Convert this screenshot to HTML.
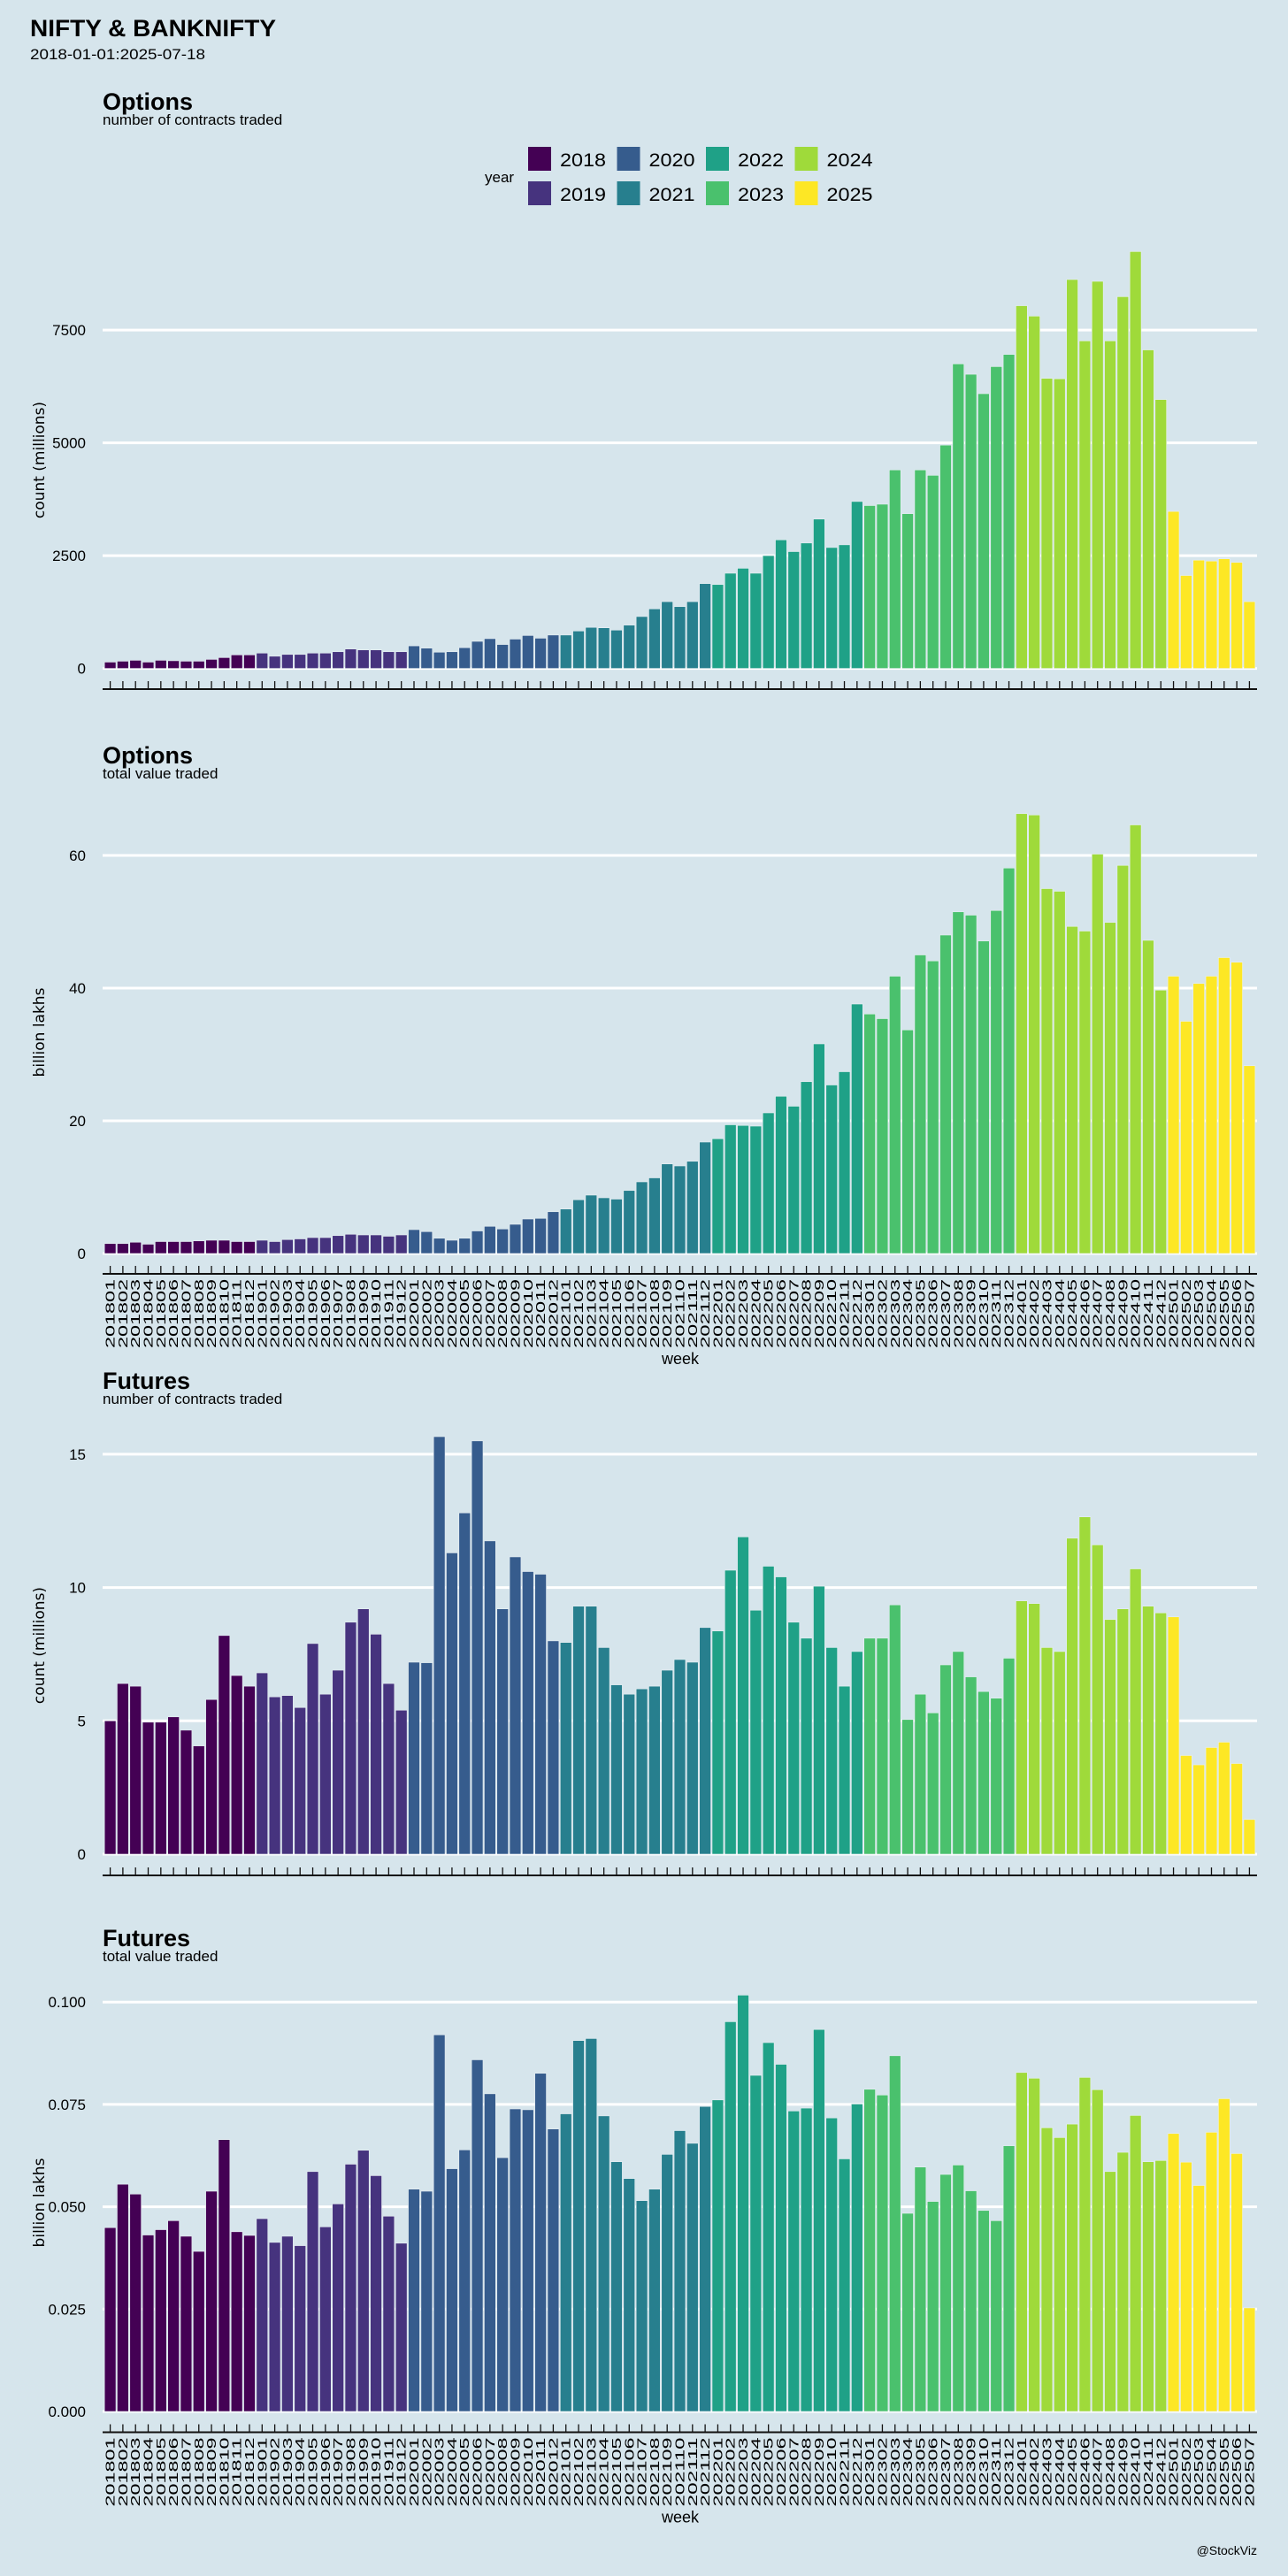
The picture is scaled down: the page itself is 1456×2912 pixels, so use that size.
<!DOCTYPE html>
<html><head><meta charset="utf-8"><style>
body{margin:0;background:#d6e5ec;}
svg{display:block;font-family:"Liberation Sans",sans-serif;}
</style></head><body>
<svg id="chart" width="1456" height="2912" viewBox="0 0 1456 2912" xmlns="http://www.w3.org/2000/svg">
<rect width="1456" height="2912" fill="#d6e5ec"/>
<text x="34" y="41" font-size="27" font-weight="bold" textLength="278" lengthAdjust="spacingAndGlyphs">NIFTY &amp; BANKNIFTY</text>
<text x="34" y="67" font-size="17" textLength="198" lengthAdjust="spacingAndGlyphs">2018-01-01:2025-07-18</text>
<g id="legend">
<text x="548" y="206" font-size="17">year</text>
</g>
<text x="1421" y="2888" font-size="14" text-anchor="end">@StockViz</text>
</svg>
<script>
const months = [];
for (let y = 2018; y <= 2025; y++) for (let m = 1; m <= 12; m++) { if (y === 2025 && m > 7) break; months.push(String(y) + String(m).padStart(2, '0')); }
const years = ['2018','2019','2020','2021','2022','2023','2024','2025'];
const yearColors = ['#440154','#46337e','#365c8d','#277f8e','#1fa187','#4ac16d','#9fda3a','#fde725'];

const optCount = [140,160,180,140,180,170,160,160,200,240,300,300,
340,270,310,310,340,340,370,430,410,410,370,370,
500,450,360,370,460,600,660,530,650,730,670,740,
740,830,910,900,850,960,1150,1320,1480,1370,1480,1880,
1860,2110,2220,2110,2500,2850,2590,2780,3310,2680,2740,3700,
3610,3640,4400,3430,4400,4280,4950,6750,6520,6090,6690,6960,
8040,7810,6430,6420,8620,7260,8580,7260,8240,9240,7060,5960,
3480,2060,2400,2380,2430,2350,1480];
const optValue = [1.5,1.5,1.7,1.4,1.8,1.8,1.8,1.9,2.0,2.0,1.8,1.8,
2.0,1.8,2.1,2.2,2.4,2.4,2.7,2.9,2.8,2.8,2.6,2.8,
3.6,3.3,2.3,2.0,2.3,3.4,4.1,3.7,4.4,5.2,5.3,6.3,
6.7,8.1,8.8,8.4,8.2,9.5,10.8,11.4,13.5,13.2,13.9,16.8,
17.3,19.4,19.3,19.2,21.2,23.7,22.2,25.9,31.6,25.4,27.4,37.6,
36.1,35.4,41.8,33.7,45.0,44.1,48.0,51.5,51.0,47.1,51.7,58.1,
66.3,66.1,55.0,54.6,49.3,48.6,60.2,49.9,58.5,64.6,47.2,39.7,
41.8,35.0,40.7,41.8,44.6,43.9,28.3];
const futCount = [5.0,6.4,6.3,4.95,4.95,5.15,4.65,4.06,5.8,8.2,6.7,6.3,
6.8,5.9,5.95,5.5,7.9,6.0,6.9,8.7,9.2,8.25,6.4,5.4,
7.2,7.18,15.66,11.3,12.8,15.5,11.75,9.2,11.15,10.6,10.5,8.0,
7.94,9.3,9.3,7.75,6.35,6.0,6.2,6.3,6.9,7.3,7.2,8.5,
8.37,10.65,11.9,9.15,10.8,10.4,8.7,8.1,10.05,7.75,6.3,7.6,
8.1,8.1,9.35,5.05,6.0,5.3,7.1,7.6,6.65,6.1,5.85,7.35,
9.5,9.4,7.75,7.6,11.85,12.65,11.6,8.8,9.2,10.7,9.3,9.05,
8.9,3.7,3.35,4.0,4.2,3.4,1.3];
const futValue = [.0449,.0555,.0531,.0431,.0444,.0466,.0428,.0391,.0538,.0664,.0439,.0430,
.0471,.0413,.0428,.0405,.0586,.0451,.0507,.0604,.0638,.0576,.0477,.0411,
.0543,.0538,.0920,.0593,.0639,.0859,.0776,.0620,.0739,.0737,.0826,.0690,
.0727,.0906,.0911,.0722,.0610,.0569,.0515,.0543,.0628,.0686,.0655,.0745,
.0761,.0952,.1017,.0821,.0901,.0848,.0734,.0741,.0933,.0717,.0617,.0751,
.0787,.0773,.0869,.0484,.0597,.0513,.0579,.0602,.0539,.0491,.0466,.0649,
.0828,.0814,.0693,.0669,.0702,.0816,.0786,.0586,.0633,.0723,.0610,.0613,
.0679,.0609,.0552,.0682,.0764,.0630,.0253];

const ticksOptCount = [0,2500,5000,7500];
const ticksOptValue = [0,20,40,60];
const ticksFutCount = [0,5,10,15];
const ticksFutValue = [0,0.025,0.05,0.075,0.1];
const labelsFutValue = ['0.000','0.025','0.050','0.075','0.100'];

const NS = 'http://www.w3.org/2000/svg';
const svg = document.getElementById('chart');
function mk(tag, attrs, parent) {
  const e = document.createElementNS(NS, tag);
  for (const k in attrs) e.setAttribute(k, attrs[k]);
  (parent || svg).appendChild(e);
  return e;
}

// legend
years.forEach((yr, i) => {
  const col = Math.floor(i / 2), row = i % 2;
  const x = 597 + col * 100.5, y = 166 + row * 39;
  const g = mk('g', {}, document.getElementById('legend'));
  
  
  const r = mk('rect', {x: x, y: y, width: 26, height: 27, fill: yearColors[i]}, g);
  
  
  const t = mk('text', {x: x + 36, y: y + 22, 'font-size': 21, textLength: 52, lengthAdjust: 'spacingAndGlyphs'}, g);
  t.textContent = yr;
  
  
});

const L = 116, R = 1421;
const slot = (R - L) / (months.length + 0.2);
function xC(i) { return L + (i + 0.6) * slot; }

function panel(p) {
  const g = mk('g', {});
  
  
  const yS = v => p.y0 - (v - 0) * p.scale;
  const t1 = mk('text', {x: 116, y: p.titleY, 'font-size': 27, 'font-weight': 'bold'}, g);
  t1.textContent = p.title;
  
  
  const t2 = mk('text', {x: 116, y: p.titleY + 17, 'font-size': 17}, g);
  t2.textContent = p.sub;
  
  
  p.ticks.forEach((v, k) => {
    const gl = mk('line', {x1: L, x2: R, y1: yS(v), y2: yS(v), stroke: '#fff', 'stroke-width': 3}, g);
    
    
    const tl = mk('text', {x: 97, y: yS(v) + 6, 'font-size': 17, 'text-anchor': 'end'}, g);
    tl.textContent = p.labels ? p.labels[k] : String(v);
    
    
  });
  p.data.forEach((v, i) => {
    const yi = Math.floor(i / 12);
    const bw = slot * 0.9;
    const b = mk('rect', {x: xC(i) - bw / 2, y: yS(v), width: bw, height: p.y0 - yS(v), fill: yearColors[yi], stroke: '#e8f0f4', 'stroke-width': 0.6}, g);
    
    
    const tk = mk('line', {x1: xC(i), x2: xC(i), y1: p.axisY - 9, y2: p.axisY, stroke: '#111', 'stroke-width': 1.3}, g);
    
    
    if (p.xlabels) {
      const xl = mk('text', {x: 0, y: 0, 'font-size': 15, 'text-anchor': 'end', textLength: 78, lengthAdjust: 'spacingAndGlyphs', transform: 'translate(' + (xC(i) + 5) + ',' + (p.axisY + 6) + ') rotate(-90)'}, g);
      xl.textContent = months[i];
      
      
    }
  });
  const ax = mk('line', {x1: L, x2: R, y1: p.axisY, y2: p.axisY, stroke: '#111', 'stroke-width': 2}, g);
  
  
  const yt = mk('text', {x: 0, y: 0, 'font-size': 17, 'text-anchor': 'middle', 'font-family': 'DejaVu Sans, sans-serif', transform: 'translate(50,' + p.ytY + ') rotate(-90)'}, g);
  yt.textContent = p.ytitle;
  
  
  if (p.xlabels) {
    const wt = mk('text', {x: 769, y: p.axisY + 102, 'font-size': 18, 'text-anchor': 'middle'}, g);
    wt.textContent = 'week';
    
    
  }
}

panel({name: 'options-count-panel', title: 'Options', sub: 'number of contracts traded', titleY: 124, y0: 755.6, scale: 127.5 / 2500, axisY: 779, ticks: ticksOptCount, data: optCount, ytitle: 'count (millions)', ytY: 520, xlabels: false});
panel({name: 'options-value-panel', title: 'Options', sub: 'total value traded', titleY: 863, y0: 1417, scale: 150 / 20, axisY: 1440, ticks: ticksOptValue, data: optValue, ytitle: 'billion lakhs', ytY: 1167, xlabels: true});
panel({name: 'futures-count-panel', title: 'Futures', sub: 'number of contracts traded', titleY: 1570, y0: 2096, scale: 150.7 / 5, axisY: 2120, ticks: ticksFutCount, data: futCount, ytitle: 'count (millions)', ytY: 1860, xlabels: false});
panel({name: 'futures-value-panel', title: 'Futures', sub: 'total value traded', titleY: 2200, y0: 2726, scale: 115.7 / 0.025, axisY: 2749.5, ticks: ticksFutValue, labels: labelsFutValue, data: futValue, ytitle: 'billion lakhs', ytY: 2490, xlabels: true});
</script>
</body></html>
